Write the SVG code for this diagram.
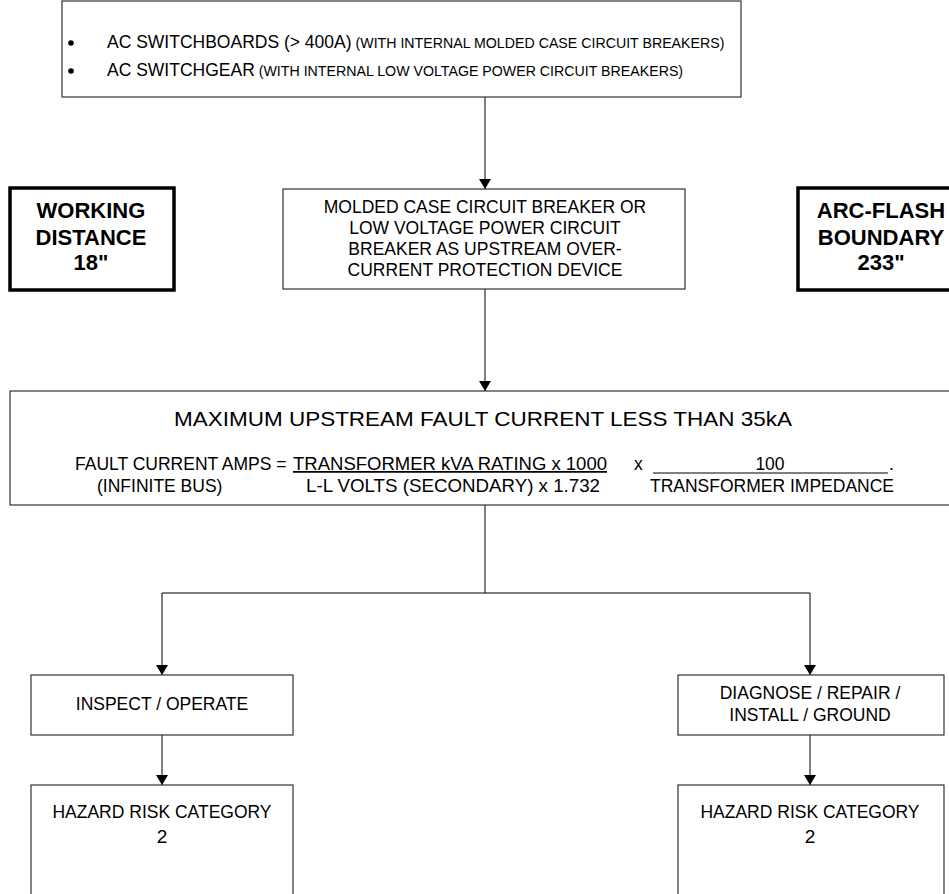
<svg xmlns="http://www.w3.org/2000/svg" width="949" height="894" viewBox="0 0 949 894">
<defs>
<marker id="arr" viewBox="0 0 10 12" refX="10" refY="6" markerWidth="10" markerHeight="12" markerUnits="userSpaceOnUse" orient="auto">
<path d="M0,0 L10,6 L0,12 Z" fill="#000"/>
</marker>
</defs>
<style>
text{font-family:"Liberation Sans",Arial,sans-serif;fill:#000}
.box{fill:#fff;stroke:#333;stroke-width:1.2}
.bold{fill:#fff;stroke:#000;stroke-width:3.5}
.c{text-anchor:middle}
.n{font-size:17.5px}
.f{font-size:17.5px}
.b{font-size:22px;font-weight:bold;text-anchor:middle}
.conn{fill:none;stroke:#000;stroke-width:1}
</style>
<g id="connectors">
<line class="conn" x1="485" y1="97" x2="485" y2="189" marker-end="url(#arr)"/>
<line class="conn" x1="485" y1="289" x2="485" y2="391" marker-end="url(#arr)"/>
<polyline class="conn" points="485,505 485,593"/>
<polyline class="conn" points="485,593 162,593 162,675" marker-end="url(#arr)"/>
<polyline class="conn" points="485,593 810,593 810,675" marker-end="url(#arr)"/>
<line class="conn" x1="162" y1="735" x2="162" y2="785" marker-end="url(#arr)"/>
<line class="conn" x1="810" y1="735" x2="810" y2="785" marker-end="url(#arr)"/>
</g>
<g id="top">
<rect class="box" x="62" y="1" width="679" height="96"/>
<circle cx="71" cy="43" r="2.8"/>
<circle cx="71" cy="71" r="2.8"/>
<text x="107" y="48"><tspan font-size="17.5">AC SWITCHBOARDS (&gt; 400A)</tspan><tspan font-size="14.2"> (WITH INTERNAL MOLDED CASE CIRCUIT BREAKERS)</tspan></text>
<text x="107" y="76"><tspan font-size="17.5">AC SWITCHGEAR</tspan><tspan font-size="14.2"> (WITH INTERNAL LOW VOLTAGE POWER CIRCUIT BREAKERS)</tspan></text>
</g>
<g id="working">
<rect class="bold" x="10" y="188" width="164" height="102"/>
<text class="b" x="91" y="218">WORKING</text>
<text class="b" x="91" y="245">DISTANCE</text>
<text class="b" x="91" y="270">18"</text>
</g>
<g id="arcflash">
<rect class="bold" x="798" y="188" width="170" height="102"/>
<text class="b" x="881" y="218">ARC-FLASH</text>
<text class="b" x="881" y="245">BOUNDARY</text>
<text class="b" x="881" y="270">233"</text>
</g>
<g id="breaker">
<rect class="box" x="283" y="189" width="402" height="100"/>
<text class="c n" x="485" y="213">MOLDED CASE CIRCUIT BREAKER OR</text>
<text class="c n" x="485" y="234">LOW VOLTAGE POWER CIRCUIT</text>
<text class="c n" x="485" y="255">BREAKER AS UPSTREAM OVER-</text>
<text class="c n" x="485" y="276">CURRENT PROTECTION DEVICE</text>
</g>
<g id="fault">
<rect class="box" x="10" y="391" width="940" height="114"/>
<text class="c" x="483" y="426" font-size="21" textLength="618" lengthAdjust="spacingAndGlyphs">MAXIMUM UPSTREAM FAULT CURRENT LESS THAN 35kA</text>
<text class="f" x="75" y="470">FAULT CURRENT AMPS =</text>
<text class="f" x="293" y="470" text-decoration="underline" textLength="314" lengthAdjust="spacingAndGlyphs">TRANSFORMER kVA RATING x 1000</text>
<text class="f" x="634" y="470">x</text>
<text class="f c" x="770" y="470">100</text>
<line x1="653" y1="473" x2="888" y2="473" stroke="#000" stroke-width="1.1"/>
<text class="f" x="889" y="470">.</text>
<text class="f" x="97" y="492">(INFINITE BUS)</text>
<text class="f" x="306" y="492" textLength="294" lengthAdjust="spacingAndGlyphs">L-L VOLTS (SECONDARY) x 1.732</text>
<text class="f c" x="772" y="492">TRANSFORMER IMPEDANCE</text>
</g>
<g id="inspect">
<rect class="box" x="31" y="675" width="262" height="60"/>
<text class="c n" x="162" y="710">INSPECT / OPERATE</text>
</g>
<g id="diagnose">
<rect class="box" x="678" y="675" width="266" height="60"/>
<text class="c n" x="810" y="699">DIAGNOSE / REPAIR /</text>
<text class="c n" x="810" y="721">INSTALL / GROUND</text>
</g>
<g id="hrc1">
<rect class="box" x="31" y="785" width="262" height="120"/>
<text class="c n" x="162" y="818">HAZARD RISK CATEGORY</text>
<text class="c" x="162" y="843" font-size="19">2</text>
</g>
<g id="hrc2">
<rect class="box" x="678" y="785" width="266" height="120"/>
<text class="c n" x="810" y="818">HAZARD RISK CATEGORY</text>
<text class="c" x="810" y="843" font-size="19">2</text>
</g>
</svg>
